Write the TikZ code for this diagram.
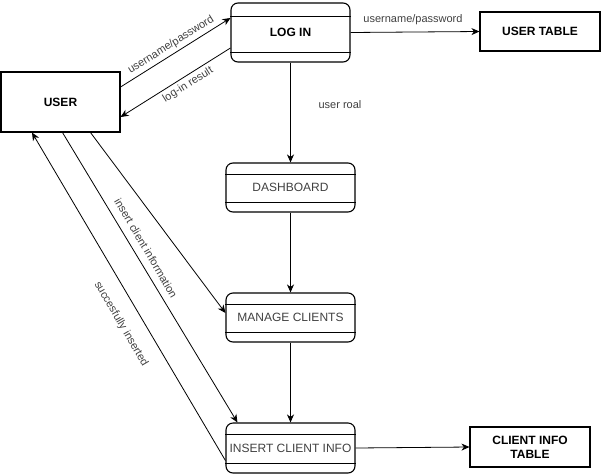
\documentclass[tikz,border=0pt]{standalone}
\usepackage{fontspec}
\setmainfont{Liberation Sans}
\usetikzlibrary{calc,arrows.meta}
\begin{document}
\begin{tikzpicture}[x=1pt,y=-1pt,
  entity/.style={draw,line width=1.1pt,inner sep=0pt,font=\fontsize{12}{14}\selectfont\bfseries,align=center},
  process/.style={draw,line width=1.1pt,rounded corners=7pt,inner sep=0pt,font=\fontsize{12}{14}\selectfont,text=black!75},
  flow/.style={draw,line width=0.8pt,-{Stealth[length=8pt,width=7pt,inset=2.5pt]}},
  lbl/.style={font=\fontsize{11}{13}\selectfont,text=black!75,inner sep=1pt}]
\useasboundingbox (0,0) rectangle (601,474);

% external entities and data stores
\node[entity,minimum width=119pt,minimum height=60pt] (user) at (60.5,102) {USER};
\node[entity,minimum width=120pt,minimum height=39pt] (utable) at (540,31.5) {USER TABLE};
\node[entity,minimum width=120pt,minimum height=40pt] (ctable) at (530,447) {CLIENT INFO\\TABLE};

% processes
\node[process,minimum width=119pt,minimum height=59pt,font=\fontsize{12}{14}\selectfont\bfseries,text=black] (login) at (290.5,32.5) {LOG IN};
\node[process,minimum width=129pt,minimum height=49pt] (dash) at (290.5,187.5) {DASHBOARD};
\node[process,minimum width=129pt,minimum height=49pt] (manage) at (290.5,317.5) {MANAGE CLIENTS};
\node[process,minimum width=129pt,minimum height=50pt] (insert) at (290.5,448) {INSERT CLIENT INFO};

% header and footer bands of the process boxes
\foreach \n/\t/\b in {login/14/10, dash/12/10, manage/12/10, insert/12/10}{
  \draw[line width=1.1pt] ($(\n.north west)+(0,\t)$) -- ($(\n.north east)+(0,\t)$);
  \draw[line width=1.1pt] ($(\n.south west)+(0,-\b)$) -- ($(\n.south east)+(0,-\b)$);
}

% data flows
\draw[flow] ($(user.east)+(0,-15)$) -- ($(login.west)+(0,-14.5)$);
\draw[flow] ($(login.west)+(0,15.5)$) -- ($(user.east)+(0,15)$);
\draw[flow] (login.east) -- (utable.west);
\draw[flow] (login.south) -- (dash.north);
\draw[flow] (dash.south) -- (manage.north);
\draw[flow] (manage.south) -- (insert.north);
\draw[flow] (insert.east) -- (ctable.west);
\draw[flow] ($(user.south)+(30,0)$) -- ($(manage.west)+(0,-4.5)$);
\draw[flow] ($(user.south)+(2,0)$) -- ($(insert.north west)+(12,0)$);
\draw[flow] ($(insert.south west)+(0,-13)$) -- ($(user.south)+(-28.5,0)$);

% flow labels
\node[lbl,rotate=32] (l1) at (171,45) {username/password};
\node[lbl,rotate=32] (l2) at (188,85) {log-in result};
\node[lbl] (l3) at (413,20) {username/password};
\node[lbl] (l4) at (340,105) {user roal};
\node[lbl,rotate=-59.6] (l5) at (146,248) {insert client information};
\node[lbl,rotate=-59.6] (l6) at (121,324) {succesfully inserted};
\end{tikzpicture}
\end{document}
